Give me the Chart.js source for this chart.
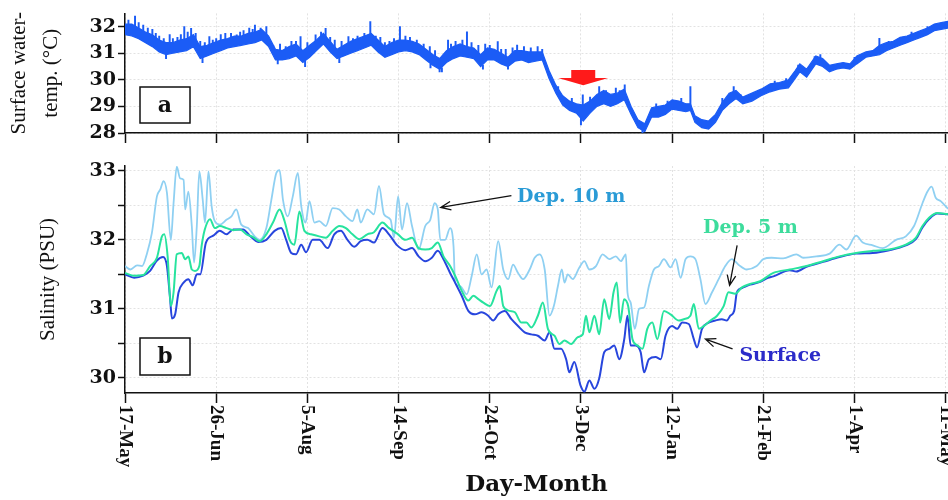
<!DOCTYPE html>
<html>
<head>
<meta charset="utf-8">
<script src="https://cdn.jsdelivr.net/npm/chart.js@4.4.1/dist/chart.umd.min.js"></script>
<style>
  html, body { margin: 0; padding: 0; background: #fff; }
  #temp { position: absolute; left: 0; top: 0; }
  #sal { position: absolute; left: 0; top: 150px; }
</style>
</head>
<body>
<canvas id="temp" width="948" height="150"></canvas>
<canvas id="sal" width="948" height="350"></canvas>
<script>
// day 0 = 17-May, one tick every 40 days
const dayTicks = [0, 40, 80, 120, 160, 200, 240, 280, 320, 360];
const dayLabels = ["17-May", "26-Jun", "5-Aug", "14-Sep", "24-Oct", "3-Dec", "12-Jan", "21-Feb", "1-Apr", "11-May"];
const tempTicks = [28, 29, 30, 31, 32];
const salTicks = [30, 30.5, 31, 31.5, 32, 32.5, 33];

// surface water temperature, upper and lower edge of the noisy trace
const tempDays = [0, 3, 6, 9, 12, 15, 18, 21, 24, 27, 30, 33, 36, 39, 42, 45, 48, 51, 54, 57, 60, 63, 66, 69, 72, 75, 78, 81, 84, 87, 90, 93, 96, 99, 102, 105, 108, 111, 114, 117, 120, 123, 126, 129, 132, 135, 138, 141, 144, 147, 150, 153, 156, 159, 162, 165, 168, 171, 174, 177, 180, 183, 186, 189, 192, 195, 198, 201, 204, 207, 210, 213, 216, 219, 222, 225, 228, 231, 234, 237, 240, 243, 246, 248, 250, 253, 256, 259, 262, 265, 268, 271, 275, 279, 283, 287, 291, 294, 296, 299, 303, 306, 309, 312, 315, 318, 321, 325, 328, 331, 334, 337, 340, 343, 346, 349, 352, 355, 358, 361];
const tempHigh = [32.1, 32.1, 31.95, 31.8, 31.7, 31.5, 31.4, 31.4, 31.5, 31.55, 31.7, 31.25, 31.3, 31.4, 31.5, 31.55, 31.65, 31.65, 31.75, 31.8, 31.9, 31.65, 31.15, 31.1, 31.25, 31.35, 31.1, 31.3, 31.5, 31.75, 31.45, 31.15, 31.3, 31.45, 31.55, 31.65, 31.75, 31.5, 31.25, 31.4, 31.5, 31.5, 31.45, 31.35, 31.15, 30.95, 30.8, 31.1, 31.25, 31.35, 31.25, 31.2, 30.95, 31.2, 31.15, 31.0, 30.85, 31.1, 31.1, 31.05, 31.05, 31.05, 30.35, 29.8, 29.4, 29.2, 29.1, 29.05, 29.2, 29.45, 29.6, 29.45, 29.5, 29.65, 29.0, 28.5, 28.35, 28.95, 29.0, 29.05, 29.25, 29.2, 29.1, 29.1, 28.65, 28.5, 28.45, 28.7, 29.15, 29.5, 29.6, 29.35, 29.5, 29.65, 29.85, 29.9, 30.0, 30.35, 30.6, 30.4, 30.9, 30.8, 30.55, 30.6, 30.65, 30.6, 30.9, 31.05, 31.1, 31.3, 31.4, 31.45, 31.6, 31.65, 31.75, 31.85, 31.95, 32.1, 32.15, 32.2];
const tempLow = [31.7, 31.65, 31.55, 31.4, 31.25, 31.05, 30.95, 31.0, 31.05, 31.1, 31.25, 30.8, 30.9, 31.0, 31.1, 31.2, 31.25, 31.3, 31.35, 31.4, 31.5, 31.25, 30.75, 30.75, 30.8, 30.9, 30.65, 30.85, 31.1, 31.35, 31.05, 30.8, 30.9, 31.0, 31.1, 31.2, 31.3, 31.05, 30.85, 30.95, 31.05, 31.1, 31.05, 30.95, 30.75, 30.55, 30.4, 30.65, 30.8, 30.9, 30.85, 30.8, 30.5, 30.75, 30.75, 30.6, 30.5, 30.7, 30.75, 30.65, 30.7, 30.75, 30.05, 29.5, 29.05, 28.85, 28.75, 28.45, 28.75, 29.0, 29.1, 29.0, 29.1, 29.25, 28.7, 28.2, 28.05, 28.6, 28.6, 28.7, 28.9, 28.85, 28.8, 28.85, 28.4, 28.2, 28.15, 28.4, 28.85, 29.1, 29.3, 29.1, 29.2, 29.4, 29.55, 29.65, 29.7, 30.05, 30.3, 30.1, 30.6, 30.5, 30.3, 30.4, 30.45, 30.4, 30.6, 30.85, 30.9, 30.95, 31.1, 31.2, 31.3, 31.4, 31.5, 31.6, 31.7, 31.85, 31.9, 31.95];
// short spikes sticking out of the temperature trace
const spikeDays = [1.5, 4.4, 6, 8, 10, 12, 13.5, 15, 17, 18, 19.6, 21, 23, 24.5, 26, 27.5, 29, 31, 33, 34, 35, 37, 38.5, 40, 42, 44, 46.5, 49, 50.5, 52, 54.5, 56, 57, 59.5, 62, 65, 67, 68, 70.5, 73, 75, 77, 79, 80, 83.6, 86, 88, 90, 92, 94, 95, 98, 100, 102, 105, 107.6, 110, 112, 114, 116, 118, 120.6, 123, 125, 128, 131, 133.7, 134, 136, 138, 139, 141.7, 143, 145, 148, 150, 152, 155, 157, 158, 160, 163.5, 165, 167, 168, 170, 172, 175, 178, 181, 183, 190, 196, 200, 200.8, 204, 208, 211, 215.3, 217, 219.2, 227, 233, 238, 244, 248, 262, 267, 270, 285, 290, 295.3, 302.5, 305, 320, 330.9, 335, 345, 352];
const spikeFrom = [31.9, 31.8, 31.8, 31.6, 31.6, 31.4, 31.4, 31.2, 31.2, 31.0, 31.2, 31.2, 31.2, 31.3, 31.3, 31.4, 31.4, 31.4, 31.0, 30.85, 31.1, 31.1, 31.2, 31.1, 31.3, 31.3, 31.4, 31.4, 31.4, 31.4, 31.4, 31.5, 31.6, 31.6, 31.55, 31.0, 30.8, 30.9, 30.9, 30.9, 31.1, 31.0, 30.7, 31.1, 31.2, 31.4, 31.4, 31.3, 31.0, 30.85, 31.1, 31.2, 31.2, 31.2, 31.4, 31.4, 31.3, 31.1, 31.1, 31.0, 31.2, 31.3, 31.3, 31.2, 31.2, 31.0, 30.9, 30.6, 30.8, 30.6, 30.45, 30.9, 30.9, 30.9, 31.1, 31.1, 31.0, 30.9, 30.55, 30.8, 30.9, 30.9, 30.8, 30.7, 30.55, 30.8, 30.9, 30.9, 30.8, 30.8, 30.8, 29.5, 29.0, 28.9, 28.9, 29.0, 29.2, 29.3, 29.2, 29.3, 29.4, 28.3, 28.8, 28.9, 29.0, 28.9, 29.0, 29.4, 29.2, 29.7, 29.8, 30.3, 30.6, 30.7, 30.6, 31.0, 31.2, 31.55, 31.75];
const spikeTo = [32.25, 32.4, 32.15, 32.06, 31.95, 31.9, 31.75, 31.65, 31.55, 30.8, 31.7, 31.55, 31.6, 31.7, 32.0, 31.8, 31.94, 31.75, 31.45, 30.65, 31.4, 31.63, 31.5, 31.55, 31.7, 31.75, 31.75, 31.69, 31.8, 31.85, 31.95, 31.9, 32.06, 31.95, 32.0, 31.3, 30.6, 31.35, 31.25, 31.45, 31.45, 31.63, 30.5, 31.4, 31.69, 31.8, 31.94, 31.6, 31.5, 30.65, 31.45, 31.63, 31.55, 31.65, 31.75, 32.19, 31.65, 31.6, 31.4, 31.45, 31.55, 32.0, 31.65, 31.6, 31.5, 31.35, 31.25, 30.45, 31.1, 30.3, 30.3, 31.5, 31.35, 31.45, 31.5, 31.81, 31.4, 31.3, 30.4, 31.35, 31.3, 31.44, 31.15, 31.15, 30.4, 31.2, 31.31, 31.25, 31.2, 31.25, 31.15, 29.75, 29.3, 28.3, 29.44, 29.35, 29.75, 29.6, 29.69, 29.6, 29.81, 28.0, 29.1, 29.2, 29.3, 29.75, 29.3, 29.75, 29.45, 29.95, 30.05, 30.56, 30.88, 30.95, 30.85, 31.56, 31.45, 31.8, 32.0];

// salinity (PSU)
const surfDays = [0, 4, 8, 11, 14, 16.7, 18.4, 19.8, 20.6, 22, 23.5, 25.7, 27.8, 29.7, 31.5, 33, 35.5, 38.7, 41.6, 44.5, 47.5, 51.8, 54.7, 58.4, 62, 65.6, 68.5, 70.7, 72.9, 75, 77.3, 79.4, 82.3, 85.2, 88.9, 91.8, 94.7, 97.6, 100.5, 103.4, 106.3, 109.2, 112.9, 115.8, 119.4, 123, 125.9, 128.8, 131.7, 134.6, 137.2, 139.7, 142.6, 144.8, 147.7, 150.6, 153.5, 156.4, 159.3, 161.5, 163.7, 166.6, 169.5, 172.4, 175.3, 178.2, 181.1, 184.1, 186.2, 188.4, 191.3, 193.5, 194.9, 197.1, 199.8, 201.5, 203.7, 205.9, 208, 210.2, 212.4, 214.6, 216.8, 219, 220.4, 221.8, 224, 226.2, 227.7, 229.8, 232.7, 235, 237.1, 240, 242.2, 244.4, 247.3, 249.5, 250.9, 253.1, 256, 258.9, 261.8, 264, 265.5, 267.2, 268.4, 270.6, 274.2, 278.6, 282, 284.4, 291.6, 294.5, 298.9, 306.2, 313.4, 320.7, 328, 335.2, 342.5, 346.9, 349.8, 352.7, 356.3, 361];
const surfSal = [31.50, 31.45, 31.48, 31.55, 31.70, 31.75, 31.62, 31.14, 30.86, 30.92, 31.24, 31.38, 31.43, 31.34, 31.50, 31.50, 31.96, 32.06, 32.13, 32.08, 32.15, 32.15, 32.06, 31.97, 32.00, 32.13, 32.17, 32.00, 31.81, 31.79, 31.93, 31.82, 32.00, 32.00, 31.88, 32.08, 32.13, 32.00, 31.90, 31.98, 32.00, 31.96, 32.17, 32.08, 31.92, 31.85, 31.88, 31.76, 31.69, 31.74, 31.84, 31.72, 31.52, 31.38, 31.19, 30.97, 30.92, 30.95, 30.90, 30.83, 30.92, 30.97, 30.85, 30.75, 30.66, 30.63, 30.61, 30.54, 30.66, 30.42, 30.42, 30.27, 30.08, 30.23, 29.89, 29.80, 29.96, 29.84, 29.99, 30.37, 30.42, 30.47, 30.27, 30.56, 30.90, 30.47, 30.47, 30.37, 30.08, 30.27, 30.30, 30.27, 30.61, 30.75, 30.71, 30.80, 30.78, 30.56, 30.44, 30.71, 30.80, 30.83, 30.85, 30.83, 30.90, 30.97, 31.24, 31.30, 31.35, 31.39, 31.45, 31.47, 31.56, 31.54, 31.61, 31.68, 31.75, 31.80, 31.81, 31.85, 31.92, 32.01, 32.18, 32.30, 32.38, 32.37];
const dep5Days = [0, 4, 8, 11, 14, 16.2, 17.2, 18.7, 20.1, 21.3, 22.7, 24.9, 26.4, 27.8, 29.3, 30.7, 32.6, 33.6, 35, 37.3, 39.4, 41.6, 44.5, 47.5, 50.4, 53.3, 56.2, 59.1, 62, 64.9, 67.8, 70, 72.2, 74.3, 76.5, 78.7, 81.6, 85.2, 88.1, 91.1, 94, 96.9, 99.8, 102.8, 106.3, 109.2, 112.9, 115.8, 119.4, 123, 125.9, 128.8, 131.7, 134.6, 137.2, 139.7, 142.6, 144.8, 147.7, 150.6, 152.8, 155, 157.2, 160.1, 163, 164.4, 165.9, 168.8, 171, 173.9, 176.1, 178.2, 181.1, 183.3, 185.5, 188.4, 190.6, 192.8, 195.7, 198.6, 200.8, 202.2, 203.7, 205.9, 208, 210.2, 212.4, 214.3, 215.7, 217.2, 218.9, 220.7, 222.6, 224.8, 227, 229.1, 231.3, 233.5, 236.4, 239.3, 243, 245.1, 248, 249.5, 251.7, 253.8, 256.8, 259.7, 262.6, 264.7, 267.7, 270.6, 274.2, 278.6, 284.4, 291.6, 298.9, 306.2, 313.4, 320.7, 328, 335.2, 342.5, 346.9, 349.8, 352.7, 356.3, 361];
const dep5Sal = [31.52, 31.48, 31.49, 31.62, 31.74, 32.05, 32.08, 31.76, 31.04, 31.24, 31.79, 31.81, 31.72, 31.76, 31.57, 31.55, 31.62, 31.91, 32.15, 32.30, 32.17, 32.20, 32.17, 32.14, 32.15, 32.08, 32.04, 31.98, 32.08, 32.25, 32.44, 32.27, 32.00, 31.93, 32.41, 32.13, 32.08, 32.05, 32.03, 32.13, 32.20, 32.17, 32.08, 32.01, 32.08, 32.11, 32.25, 32.17, 32.09, 32.00, 32.03, 31.88, 31.86, 31.88, 31.96, 31.76, 31.62, 31.48, 31.26, 31.12, 31.19, 31.14, 31.09, 31.04, 31.26, 31.33, 31.04, 30.97, 30.95, 30.80, 30.80, 30.73, 30.90, 31.09, 30.71, 30.61, 30.49, 30.54, 30.49, 30.59, 30.63, 30.90, 30.66, 30.90, 30.63, 31.14, 30.85, 31.24, 31.38, 30.80, 31.14, 31.04, 30.56, 30.47, 30.42, 30.71, 30.80, 30.56, 30.97, 30.92, 30.83, 30.85, 30.90, 31.07, 30.71, 30.75, 30.83, 30.90, 31.04, 31.24, 31.22, 31.31, 31.36, 31.40, 31.52, 31.57, 31.62, 31.69, 31.76, 31.81, 31.84, 31.86, 31.93, 32.03, 32.20, 32.32, 32.39, 32.37];
const dep10Days = [0, 2.4, 5.3, 7.5, 9.7, 11.8, 14, 15.5, 16.9, 18.4, 20.1, 21.3, 22.7, 24.2, 25.7, 26.4, 27.8, 29.3, 30.3, 31.5, 32.6, 34.1, 35.1, 36.6, 38, 39.4, 41.6, 44.5, 46.7, 48.8, 51, 54, 56.9, 59.1, 62, 64.2, 66.4, 67.8, 69.3, 71.4, 73.6, 75.8, 77.3, 79.2, 80.9, 83.1, 85.2, 88.1, 91.1, 94, 96.9, 99.8, 101.9, 103.4, 106.3, 109.2, 111.4, 113.6, 116.5, 118, 119.8, 121.5, 123.7, 125.9, 128.8, 131.7, 133.9, 135.8, 137.2, 138.3, 140.4, 142.6, 144.1, 144.8, 147, 149.9, 152.1, 154.3, 156.4, 158.6, 160.8, 163.7, 165.9, 168.1, 170.2, 172.4, 174.6, 177.5, 179.7, 181.9, 184.1, 186.2, 188.1, 189.9, 191.6, 192.8, 194.2, 196.4, 199.3, 201.5, 203.7, 206.6, 209.5, 212.4, 215.3, 217.5, 219.7, 220.4, 221.8, 223.6, 225.5, 227.7, 229.8, 232, 234.2, 236.4, 239.3, 241.5, 243.7, 245.9, 248, 250.2, 252.4, 254.6, 257.5, 260.4, 263.3, 266.2, 269.1, 272.7, 277.1, 280, 283.6, 288.7, 294.5, 297.5, 303.3, 309.1, 313.4, 316.4, 320.7, 323.6, 328, 332.3, 338.2, 342.5, 346.1, 349.8, 352, 353.8, 355.6, 357.8, 361];
const dep10Sal = [31.62, 31.57, 31.63, 31.62, 31.81, 32.10, 32.63, 32.73, 32.85, 32.68, 32.00, 32.53, 33.06, 32.89, 32.87, 32.44, 32.70, 32.20, 31.67, 32.20, 32.99, 32.58, 32.25, 32.99, 32.49, 32.27, 32.22, 32.29, 32.34, 32.44, 32.22, 32.17, 32.05, 32.00, 32.17, 32.58, 32.97, 33.01, 32.58, 32.34, 32.63, 32.97, 32.49, 32.25, 32.56, 32.25, 32.27, 32.20, 32.46, 32.44, 32.34, 32.27, 32.44, 32.25, 32.44, 32.37, 32.78, 32.37, 32.29, 32.03, 32.63, 32.15, 32.53, 32.20, 31.86, 32.20, 32.29, 32.53, 32.44, 32.00, 32.00, 32.17, 31.91, 31.38, 31.33, 31.21, 31.48, 31.79, 31.50, 31.57, 31.31, 31.98, 31.57, 31.43, 31.64, 31.52, 31.43, 31.57, 31.74, 31.79, 31.57, 30.90, 31.04, 31.33, 31.57, 31.38, 31.50, 31.43, 31.60, 31.69, 31.57, 31.62, 31.79, 31.72, 31.76, 31.69, 31.79, 31.24, 31.09, 30.71, 31.00, 31.02, 31.33, 31.57, 31.62, 31.72, 31.60, 31.72, 31.45, 31.72, 31.76, 31.72, 31.43, 31.07, 31.24, 31.43, 31.62, 31.72, 31.64, 31.57, 31.62, 31.72, 31.74, 31.73, 31.79, 31.74, 31.76, 31.80, 31.93, 31.86, 32.06, 31.96, 31.92, 31.88, 32.00, 32.05, 32.20, 32.53, 32.70, 32.77, 32.61, 32.56, 32.45];

// text notes on panel b: where the label sits and where its arrow points (day, PSU)
const notes = [
    { text: "Dep. 10 m", day: 172, sal: 32.62, color: "#2a9bd6", from: [169.5, 32.64], to: [138.5, 32.47] },
    { text: "Dep. 5 m", day: 253.5, sal: 32.17, color: "#3ddc9c", from: [268.5, 31.92], to: [265.2, 31.34] },
    { text: "Surface", day: 269.5, sal: 30.32, color: "#2b2bc9", from: [266.5, 30.42], to: [254.6, 30.56] }
];
// red marker on panel a (day, top of shaft, tip in degC)
const marker = { day: 201, top: 30.37, tip: 29.8 };

const serif = "'Liberation Serif', 'Times New Roman', serif";
const wide = "'DejaVu Serif', serif";
const ink = "#111";

const pts = (xs, ys) => xs.map((x, i) => ({ x: x, y: ys[i] }));

function dayAxis(height, title) {
    return {
        type: "linear",
        min: 0,
        max: 361,
        offset: false,
        afterBuildTicks: s => { s.ticks = dayTicks.map(v => ({ value: v })); },
        ticks: { display: false },
        grid: { color: "#e2e2e2", offset: false, tickLength: 10, tickColor: ink, tickWidth: 1.5, tickBorderDash: [] },
        border: { color: ink, width: 1.5, dash: [2, 2] },
        title: title,
        afterFit: s => { s.height = height; }
    };
}

function valueAxis(min, max, values, title, pad) {
    return {
        min: min,
        max: max,
        afterBuildTicks: s => { s.ticks = values.map(v => ({ value: v })); },
        ticks: {
            font: { family: wide, size: 19, weight: "bold" },
            color: ink,
            padding: 2,
            callback: v => Number.isInteger(v) ? String(v) : ""
        },
        grid: { color: "#e2e2e2", tickLength: 7, tickColor: ink, tickWidth: 1.5, tickBorderDash: [] },
        border: { color: ink, width: 1.5, dash: [2, 2] },
        title: { display: true, text: title, color: ink, font: { family: serif, size: 21, lineHeight: 1.5 }, padding: { top: pad, bottom: 0 } },
        afterFit: s => { s.width = 125; }
    };
}

function drawBox(ctx, area, letter, fromBottom, h) {
    const left = area.left + 15, top = area.bottom - fromBottom;
    ctx.save();
    ctx.fillStyle = "#fff";
    ctx.strokeStyle = ink;
    ctx.lineWidth = 1.5;
    ctx.fillRect(left, top, 50, h);
    ctx.strokeRect(left, top, 50, h);
    ctx.fillStyle = ink;
    ctx.font = "bold 22px " + wide;
    ctx.textAlign = "center";
    ctx.textBaseline = "middle";
    ctx.fillText(letter, left + 25, top + h / 2 + 1);
    ctx.restore();
}

const tempDecor = {
    id: "tempDecor",
    afterDraw(chart) {
        const { ctx, chartArea, scales: { x, y } } = chart;
        drawBox(ctx, chartArea, "a", 46, 36);
        const cx = x.getPixelForValue(marker.day);
        const top = y.getPixelForValue(marker.top);
        const tip = y.getPixelForValue(marker.tip);
        ctx.save();
        ctx.fillStyle = "#ff1a1a";
        ctx.beginPath();
        ctx.moveTo(cx - 12, top);
        ctx.lineTo(cx + 12, top);
        ctx.lineTo(cx + 12, top + 8);
        ctx.lineTo(cx + 25, top + 8);
        ctx.lineTo(cx, tip);
        ctx.lineTo(cx - 25, top + 8);
        ctx.lineTo(cx - 12, top + 8);
        ctx.closePath();
        ctx.fill();
        ctx.restore();
    }
};

const salDecor = {
    id: "salDecor",
    afterDraw(chart) {
        const { ctx, chartArea, scales: { x, y } } = chart;
        drawBox(ctx, chartArea, "b", 55, 37);

        // x tick labels, turned clockwise
        ctx.save();
        ctx.font = "bold 19px " + serif;
        ctx.fillStyle = ink;
        ctx.textAlign = "left";
        ctx.textBaseline = "middle";
        dayTicks.forEach((d, i) => {
            ctx.save();
            ctx.translate(x.getPixelForValue(d), chartArea.bottom + 12);
            ctx.rotate(Math.PI / 2);
            ctx.fillText(dayLabels[i], 0, 0);
            ctx.restore();
        });
        ctx.restore();

        notes.forEach(n => {
            ctx.save();
            ctx.font = "bold 19px " + wide;
            ctx.fillStyle = n.color;
            ctx.textAlign = "left";
            ctx.textBaseline = "middle";
            ctx.fillText(n.text, x.getPixelForValue(n.day), y.getPixelForValue(n.sal));
            const x1 = x.getPixelForValue(n.from[0]), y1 = y.getPixelForValue(n.from[1]);
            const x2 = x.getPixelForValue(n.to[0]), y2 = y.getPixelForValue(n.to[1]);
            const a = Math.atan2(y2 - y1, x2 - x1);
            ctx.strokeStyle = ink;
            ctx.lineWidth = 1.3;
            ctx.beginPath();
            ctx.moveTo(x1, y1);
            ctx.lineTo(x2, y2);
            ctx.moveTo(x2 - 11 * Math.cos(a - 0.4), y2 - 11 * Math.sin(a - 0.4));
            ctx.lineTo(x2, y2);
            ctx.lineTo(x2 - 11 * Math.cos(a + 0.4), y2 - 11 * Math.sin(a + 0.4));
            ctx.stroke();
            ctx.restore();
        });
    }
};

const tempBlue = "#1b5cf6";
const tempChart = new Chart(document.getElementById("temp"),
    {
        type: "line",
        data: {
            datasets: [
                {
                    label: "Surface water temp.",
                    data: pts(tempDays, tempHigh),
                    borderColor: tempBlue,
                    backgroundColor: tempBlue,
                    borderWidth: 1.2,
                    pointRadius: 0,
                    fill: "+1"
                },
                {
                    label: "low",
                    data: pts(tempDays, tempLow),
                    borderColor: tempBlue,
                    borderWidth: 1.2,
                    pointRadius: 0,
                    fill: false
                },
                {
                    type: "bar",
                    label: "spikes",
                    data: spikeDays.map((d, i) => ({ x: d, y: [spikeFrom[i], spikeTo[i]] })),
                    backgroundColor: tempBlue,
                    barThickness: 1.3,
                    grouped: false
                }
            ]
        },
        options: {
            responsive: false,
            animation: false,
            layout: { padding: { top: 13, right: 0, bottom: 0, left: 0 } },
            plugins: { legend: { display: false }, tooltip: { enabled: false } },
            scales: {
                x: dayAxis(17, { display: false }),
                y: valueAxis(28, 32.5, tempTicks, ["Surface water-", "temp. (°C)"], 4)
            }
        },
        plugins: [tempDecor]
    });

const lineStyle = { pointRadius: 0, cubicInterpolationMode: "monotone" };
const salChart = new Chart(document.getElementById("sal"),
    {
        type: "line",
        data: {
            datasets: [
                Object.assign({ label: "Dep. 5 m", data: pts(dep5Days, dep5Sal), borderColor: "#27e39e", borderWidth: 2, order: 1 }, lineStyle),
                Object.assign({ label: "Surface", data: pts(surfDays, surfSal), borderColor: "#2846dd", borderWidth: 2, order: 2 }, lineStyle),
                Object.assign({ label: "Dep. 10 m", data: pts(dep10Days, dep10Sal), borderColor: "#8fd0f2", borderWidth: 1.8, order: 3 }, lineStyle)
            ]
        },
        options: {
            responsive: false,
            animation: false,
            layout: { padding: { top: 16, right: 0, bottom: 0, left: 0 } },
            plugins: { legend: { display: false }, tooltip: { enabled: false } },
            scales: {
                x: dayAxis(107, {
                    display: true,
                    text: "Day-Month",
                    color: ink,
                    font: { family: wide, size: 23, weight: "bold" },
                    padding: { top: 0, bottom: 1 }
                }),
                y: valueAxis(29.78, 33.07, salTicks, "Salinity (PSU)", 33)
            }
        },
        plugins: [salDecor]
    });
</script>
</body>
</html>
